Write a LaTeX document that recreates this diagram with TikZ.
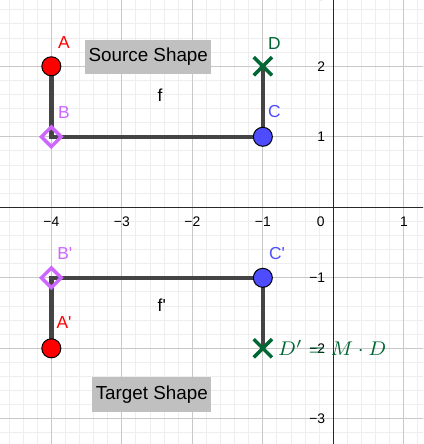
\documentclass[tikz,border=0pt]{standalone}
\usepackage{fontspec}
\setmainfont{Liberation Sans}[Ligatures=TeXOff]
\usetikzlibrary{shapes.geometric,shapes.misc,calc}
\definecolor{ptred}{RGB}{255,0,0}
\definecolor{ptviolet}{RGB}{204,102,255}
\definecolor{ptblue}{RGB}{77,77,255}
\definecolor{ptgreen}{RGB}{0,102,51}
\definecolor{segcol}{RGB}{68,68,68}
\definecolor{boxgray}{RGB}{192,192,192}
\definecolor{gridmajor}{RGB}{200,200,200}
\definecolor{gridminor}{RGB}{238,238,238}
\definecolor{axcol}{RGB}{40,40,40}

\begin{document}
\begin{tikzpicture}[
  pt/.style={circle,draw=black,line width=0.4pt,inner sep=0pt,minimum size=0.27cm},
  dia/.style={diamond,draw=ptviolet,line width=1.4pt,inner sep=0pt,minimum size=0.3cm},
  xmark/.style={cross out,draw=ptgreen,line width=1.4pt,inner sep=0pt,minimum size=0.21cm},
  seg/.style={line width=1.8pt,draw=segcol},
  lbl/.style={font=\fontsize{7}{8}\selectfont,inner sep=0pt},
  ax/.style={font=\fontsize{5.6}{7}\selectfont,inner sep=0pt},
  shapebox/.style={fill=boxgray,inner sep=0pt,font=\fontsize{7.6}{9}\selectfont}]
  \useasboundingbox (-4.728,-3.357) rectangle (1.272,2.940);
  \clip (-4.728,-3.357) rectangle (1.272,2.940);
  \draw[gridminor,line width=0.4pt,step=0.2] (-4.8,-3.4) grid (1.4,3);
  \draw[gridmajor,line width=0.5pt,step=1] (-4.8,-3.4) grid (1.4,3);
  \draw[axcol,line width=0.6pt] (-4.8,0) -- (1.4,0);
  \draw[axcol,line width=0.6pt] (0,-3.4) -- (0,3);
  \foreach \x/\t in {-4/−4,-3/−3,-2/−2,-1/−1,1/1}
    \node[ax] at (\x,-0.205) {\t};
  \node[ax] at (-0.18,-0.205) {0};
  \foreach \y/\t in {3/3,2/2,1/1,-1/−1,-2/−2,-3/−3}
    \node[ax,anchor=east] at (-0.11,\y) {\t};

  \node[shapebox,minimum width=1.79cm,minimum height=0.48cm] (src) at (-2.625,2.13) {Source Shape};
  \node[shapebox,minimum width=1.69cm,minimum height=0.49cm] (tgt) at (-2.575,-2.655) {Target Shape};

  \coordinate (A) at (-4,2);
  \coordinate (B) at (-4,1);
  \coordinate (C) at (-1,1);
  \coordinate (D) at (-1,2);
  \coordinate (Ap) at (-4,-2);
  \coordinate (Bp) at (-4,-1);
  \coordinate (Cp) at (-1,-1);
  \coordinate (Dp) at (-1,-2);
  \draw[seg] (A) -- (B) -- (C) -- (D);
  \draw[seg] (Ap) -- (Bp) -- (Cp) -- (Dp);

  \node[pt,fill=ptred] (a) at (A) {};
  \node[dia] (b) at (B) {};
  \node[pt,fill=ptblue] (c) at (C) {};
  \node[xmark] (d) at (D) {};
  \node[pt,fill=ptred] (ap) at (Ap) {};
  \node[dia] (bp) at (Bp) {};
  \node[pt,fill=ptblue] (cp) at (Cp) {};
  \node[xmark] (dp) at (Dp) {};

  \node[lbl,text=ptred] (labA) at ($(A)+(0.18,0.335)$) {A};
  \node[lbl,text=ptviolet] (labB) at ($(B)+(0.18,0.34)$) {B};
  \node[lbl,text=ptblue] (labC) at ($(C)+(0.165,0.355)$) {C};
  \node[lbl,text=ptgreen] (labD) at ($(D)+(0.165,0.32)$) {D};
  \node[lbl,text=ptred] (labAp) at ($(Ap)+(0.18,0.36)$) {A'};
  \node[lbl,text=ptviolet] (labBp) at ($(Bp)+(0.19,0.347)$) {B'};
  \node[lbl,text=ptblue] (labCp) at ($(Cp)+(0.2,0.347)$) {C'};
  \node[lbl] (labf) at (-2.458,1.583) {f};
  \node[lbl] (labfp) at (-2.434,-1.395) {f'};
  \node[anchor=west,inner sep=0pt,text=ptgreen,font=\fontsize{8.3}{10}\selectfont] (labDp) at ($(Dp)+(0.21,0)$) {$D' = M \cdot D$};
\end{tikzpicture}
\end{document}
